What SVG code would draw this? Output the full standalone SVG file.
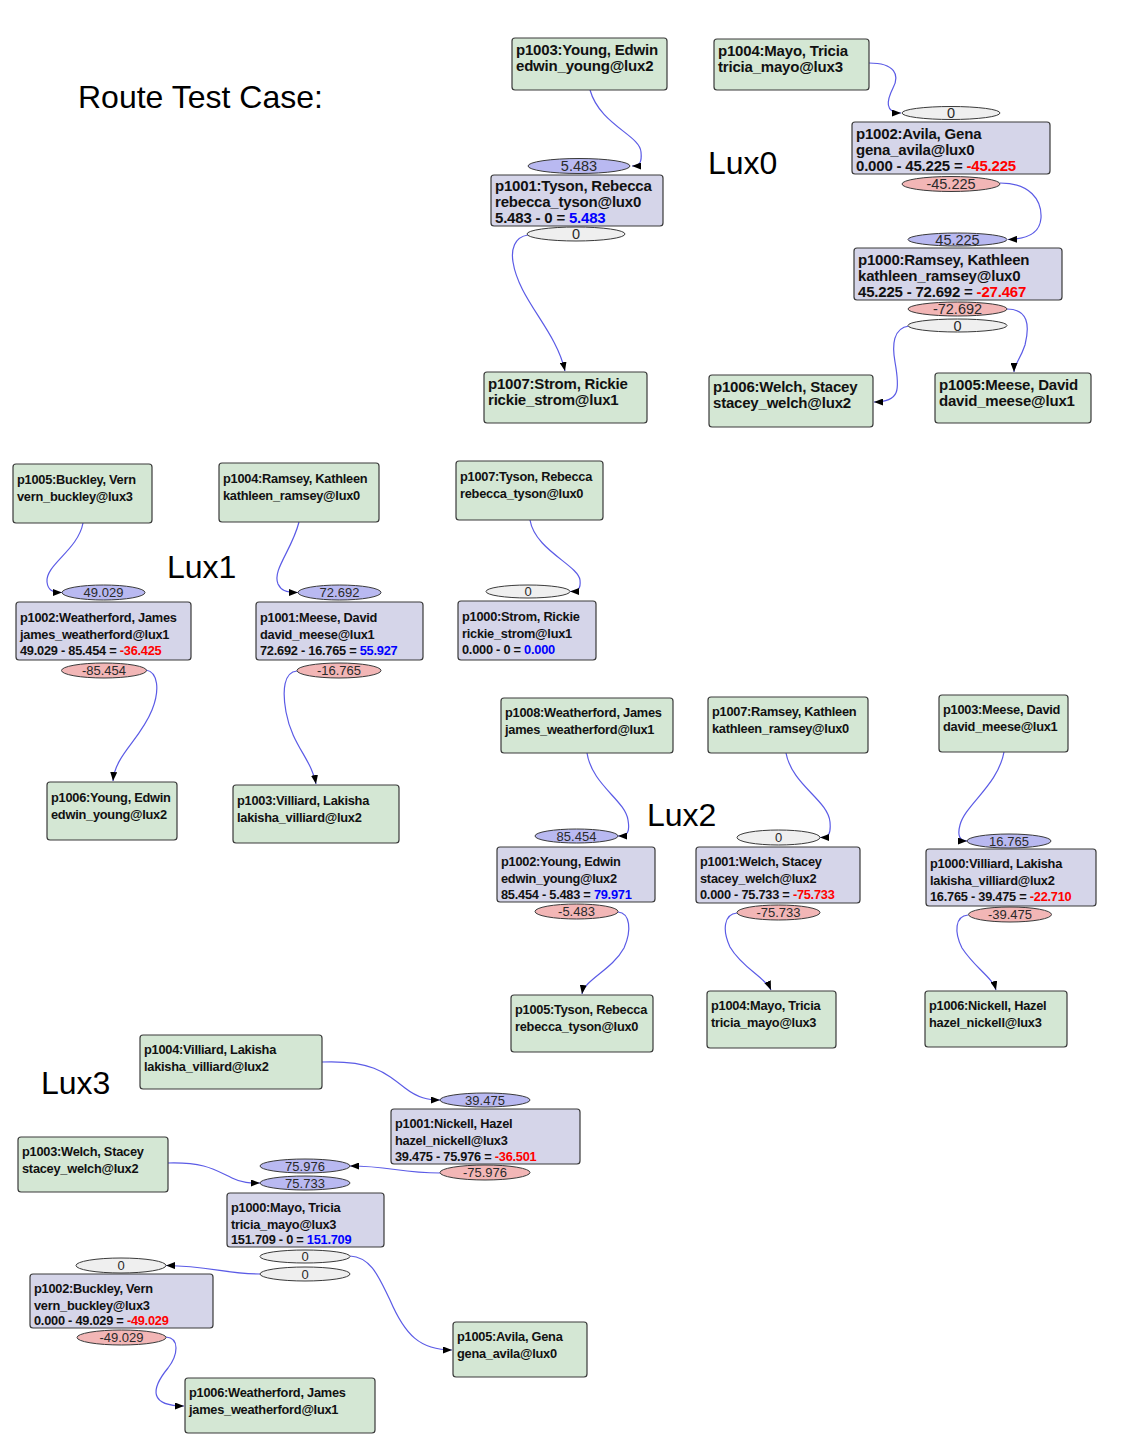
<svg xmlns="http://www.w3.org/2000/svg" width="1122" height="1452" viewBox="0 0 1122 1452">
<style>
.g{fill:#d4e7d4;stroke:#3a3a3a;stroke-width:1.2}
.l{fill:#d5d5e9;stroke:#3a3a3a;stroke-width:1.2}
.eb{fill:#b9b9f1;stroke:#3a3a3a;stroke-width:1}
.er{fill:#f2b6b6;stroke:#3a3a3a;stroke-width:1}
.eg{fill:#efefef;stroke:#3a3a3a;stroke-width:1}
.t0{font-family:"Liberation Sans",Arial,sans-serif;font-weight:bold;font-size:15px;fill:#111;letter-spacing:-0.2px}
.t1{font-family:"Liberation Sans",Arial,sans-serif;font-weight:bold;font-size:12.8px;fill:#111;letter-spacing:-0.25px}
.n0{font-family:"Liberation Sans",Arial,sans-serif;font-size:14.5px;fill:#2a2a2a;text-anchor:middle}
.n1{font-family:"Liberation Sans",Arial,sans-serif;font-size:13px;fill:#2a2a2a;text-anchor:middle}
.big{font-family:"Liberation Sans",Arial,sans-serif;font-size:32px;fill:#000}
.pos{fill:#0000ff}
.neg{fill:#ff0000}
.e{fill:none;stroke:#5b5be6;stroke-width:1.2;marker-end:url(#arr)}
</style>
<defs>
<marker id="arr" markerWidth="9" markerHeight="7" refX="9" refY="3.5" orient="auto" markerUnits="userSpaceOnUse">
<path d="M0,0 L9,3.5 L0,7 z" fill="#000"/>
</marker>
</defs>
<rect width="1122" height="1452" fill="#fff"/>

<text class="big" x="78" y="108">Route Test Case:</text>
<text class="big" x="708" y="174">Lux0</text>
<text class="big" x="167" y="578">Lux1</text>
<text class="big" x="647" y="826">Lux2</text>
<text class="big" x="41" y="1094">Lux3</text>

<g id="connectors">
<!-- Lux0 -->
<path class="e" d="M590,90 C600,125 640,135 641,152 C642,162 640,166 632,166"/>
<path class="e" d="M528,235 C514,237 511,250 513,262 C519,300 556,330 565,371"/>
<path class="e" d="M869,63 C895,63 900,75 893,88 C887,100 884,113 901,113"/>
<path class="e" d="M1000,183 C1030,183 1042,200 1041,218 C1040,232 1030,239 1008,239.5"/>
<path class="e" d="M909,326 C893,328 892,345 895,362 C900,390 900,402 874,402"/>
<path class="e" d="M1007,309 C1028,309 1030,325 1025,345 C1020,360 1014,365 1014,372"/>
<!-- Lux1 -->
<path class="e" d="M83,523 C78,550 45,565 47,582 C48,590 52,592.5 62,592.5"/>
<path class="e" d="M299,522 C292,550 272,570 278,584 C281,590 285,592.5 298,592.5"/>
<path class="e" d="M530,520 C535,550 578,565 580,580 C581,589 578,591.5 570,591.5"/>
<path class="e" d="M146,670 C158,672 160,690 152,710 C140,740 115,755 113,781"/>
<path class="e" d="M297,671 C284,672 282,690 286,712 C292,745 312,760 316,784"/>
<!-- Lux2 -->
<path class="e" d="M587,753 C592,785 625,800 628,820 C630,832 628,836 618,836"/>
<path class="e" d="M786,753 C792,785 828,800 830,822 C831,834 829,837.5 820,837.5"/>
<path class="e" d="M1004,752 C998,785 965,805 960,825 C957,836 960,841 967,841"/>
<path class="e" d="M618,912 C630,913 632,930 624,948 C612,970 584,980 582,994"/>
<path class="e" d="M737,913 C724,914 722,930 730,947 C742,968 766,978 771,990"/>
<path class="e" d="M968,915 C955,916 954,932 962,948 C975,968 993,978 996,990"/>
<!-- Lux3 -->
<path class="e" d="M322,1062 C370,1060 385,1072 405,1088 C418,1098 428,1100 440,1100"/>
<path class="e" d="M440,1173 C400,1173 390,1166 350,1166"/>
<path class="e" d="M168,1163 C205,1162 215,1170 232,1178 C242,1183 250,1183 260,1183"/>
<path class="e" d="M260,1274 C225,1274 210,1266 166,1265.5"/>
<path class="e" d="M350,1256 C372,1257 380,1280 390,1300 C405,1335 420,1350 452,1350"/>
<path class="e" d="M166,1337 C180,1338 178,1355 168,1368 C150,1390 150,1406 184,1406"/>
</g>

<!-- ===== Lux0 ===== -->
<g id="lux0-p1003">
<rect class="g" x="512" y="38" width="155" height="52" rx="3"/>
<text class="t0" x="516" y="55">p1003:Young, Edwin</text>
<text class="t0" x="516" y="71">edwin_young@lux2</text>
</g>
<g id="lux0-p1004">
<rect class="g" x="714" y="39" width="155" height="51" rx="3"/>
<text class="t0" x="718" y="56">p1004:Mayo, Tricia</text>
<text class="t0" x="718" y="72">tricia_mayo@lux3</text>
</g>
<g id="lux0-p1001">
<ellipse class="eb" cx="579" cy="166" rx="51" ry="7.5"/>
<text class="n0" x="579" y="171">5.483</text>
<rect class="l" x="491" y="175" width="172" height="51" rx="3"/>
<text class="t0" x="495" y="191">p1001:Tyson, Rebecca</text>
<text class="t0" x="495" y="207">rebecca_tyson@lux0</text>
<text class="t0" x="495" y="223">5.483 - 0 = <tspan class="pos">5.483</tspan></text>
<ellipse class="eg" cx="576" cy="234" rx="49" ry="7"/>
<text class="n0" x="576" y="239">0</text>
</g>
<g id="lux0-p1002">
<ellipse class="eg" cx="951" cy="113" rx="49" ry="6.5"/>
<text class="n0" x="951" y="118">0</text>
<rect class="l" x="852" y="122" width="198" height="52" rx="3"/>
<text class="t0" x="856" y="139">p1002:Avila, Gena</text>
<text class="t0" x="856" y="155">gena_avila@lux0</text>
<text class="t0" x="856" y="171">0.000 - 45.225 = <tspan class="neg">-45.225</tspan></text>
<ellipse class="er" cx="951" cy="184" rx="49" ry="7.5"/>
<text class="n0" x="951" y="189">-45.225</text>
</g>
<g id="lux0-p1000">
<ellipse class="eb" cx="957.5" cy="239.5" rx="49.5" ry="6.5"/>
<text class="n0" x="957.5" y="244.5">45.225</text>
<rect class="l" x="854" y="248" width="208" height="52" rx="3"/>
<text class="t0" x="858" y="265">p1000:Ramsey, Kathleen</text>
<text class="t0" x="858" y="281">kathleen_ramsey@lux0</text>
<text class="t0" x="858" y="297">45.225 - 72.692 = <tspan class="neg">-27.467</tspan></text>
<ellipse class="er" cx="957.5" cy="309" rx="49.5" ry="7"/>
<text class="n0" x="957.5" y="314">-72.692</text>
<ellipse class="eg" cx="957.5" cy="325.5" rx="49.5" ry="6.5"/>
<text class="n0" x="957.5" y="330.5">0</text>
</g>
<g id="lux0-p1007">
<rect class="g" x="484" y="372" width="163" height="51" rx="3"/>
<text class="t0" x="488" y="389">p1007:Strom, Rickie</text>
<text class="t0" x="488" y="405">rickie_strom@lux1</text>
</g>
<g id="lux0-p1006">
<rect class="g" x="709" y="375" width="164" height="52" rx="3"/>
<text class="t0" x="713" y="392">p1006:Welch, Stacey</text>
<text class="t0" x="713" y="408">stacey_welch@lux2</text>
</g>
<g id="lux0-p1005">
<rect class="g" x="935" y="373" width="156" height="50" rx="3"/>
<text class="t0" x="939" y="390">p1005:Meese, David</text>
<text class="t0" x="939" y="406">david_meese@lux1</text>
</g>

<!-- ===== Lux1 ===== -->
<g id="lux1-p1005">
<rect class="g" x="13" y="464" width="139" height="59" rx="3"/>
<text class="t1" x="17" y="484">p1005:Buckley, Vern</text>
<text class="t1" x="17" y="501">vern_buckley@lux3</text>
</g>
<g id="lux1-p1004">
<rect class="g" x="219" y="463" width="160" height="59" rx="3"/>
<text class="t1" x="223" y="483">p1004:Ramsey, Kathleen</text>
<text class="t1" x="223" y="500">kathleen_ramsey@lux0</text>
</g>
<g id="lux1-p1007">
<rect class="g" x="456" y="461" width="147" height="59" rx="3"/>
<text class="t1" x="460" y="481">p1007:Tyson, Rebecca</text>
<text class="t1" x="460" y="498">rebecca_tyson@lux0</text>
</g>
<g id="lux1-p1002">
<ellipse class="eb" cx="103.5" cy="592.5" rx="41.5" ry="7.5"/>
<text class="n1" x="103.5" y="597">49.029</text>
<rect class="l" x="16" y="602" width="175" height="58" rx="3"/>
<text class="t1" x="20" y="622">p1002:Weatherford, James</text>
<text class="t1" x="20" y="639">james_weatherford@lux1</text>
<text class="t1" x="20" y="655">49.029 - 85.454 = <tspan class="neg">-36.425</tspan></text>
<ellipse class="er" cx="104" cy="670.5" rx="42.5" ry="7.5"/>
<text class="n1" x="104" y="675">-85.454</text>
</g>
<g id="lux1-p1001">
<ellipse class="eb" cx="339.5" cy="592.5" rx="41.5" ry="7.5"/>
<text class="n1" x="339.5" y="597">72.692</text>
<rect class="l" x="256" y="602" width="167" height="58" rx="3"/>
<text class="t1" x="260" y="622">p1001:Meese, David</text>
<text class="t1" x="260" y="639">david_meese@lux1</text>
<text class="t1" x="260" y="655">72.692 - 16.765 = <tspan class="pos">55.927</tspan></text>
<ellipse class="er" cx="339" cy="670.5" rx="42" ry="7.5"/>
<text class="n1" x="339" y="675">-16.765</text>
</g>
<g id="lux1-p1000">
<ellipse class="eg" cx="528" cy="591.5" rx="42" ry="6.5"/>
<text class="n1" x="528" y="596">0</text>
<rect class="l" x="458" y="601" width="138" height="59" rx="3"/>
<text class="t1" x="462" y="621">p1000:Strom, Rickie</text>
<text class="t1" x="462" y="638">rickie_strom@lux1</text>
<text class="t1" x="462" y="654">0.000 - 0 = <tspan class="pos">0.000</tspan></text>
</g>
<g id="lux1-p1006">
<rect class="g" x="47" y="782" width="130" height="58" rx="3"/>
<text class="t1" x="51" y="802">p1006:Young, Edwin</text>
<text class="t1" x="51" y="819">edwin_young@lux2</text>
</g>
<g id="lux1-p1003">
<rect class="g" x="233" y="785" width="166" height="58" rx="3"/>
<text class="t1" x="237" y="805">p1003:Villiard, Lakisha</text>
<text class="t1" x="237" y="822">lakisha_villiard@lux2</text>
</g>

<!-- ===== Lux2 ===== -->
<g id="lux2-p1008">
<rect class="g" x="501" y="698" width="172" height="55" rx="3"/>
<text class="t1" x="505" y="717">p1008:Weatherford, James</text>
<text class="t1" x="505" y="734">james_weatherford@lux1</text>
</g>
<g id="lux2-p1007">
<rect class="g" x="708" y="697" width="160" height="56" rx="3"/>
<text class="t1" x="712" y="716">p1007:Ramsey, Kathleen</text>
<text class="t1" x="712" y="733">kathleen_ramsey@lux0</text>
</g>
<g id="lux2-p1003">
<rect class="g" x="939" y="695" width="129" height="57" rx="3"/>
<text class="t1" x="943" y="714">p1003:Meese, David</text>
<text class="t1" x="943" y="731">david_meese@lux1</text>
</g>
<g id="lux2-p1002">
<ellipse class="eb" cx="576.5" cy="836" rx="41.5" ry="7"/>
<text class="n1" x="576.5" y="840.5">85.454</text>
<rect class="l" x="497" y="847" width="158" height="55" rx="3"/>
<text class="t1" x="501" y="866">p1002:Young, Edwin</text>
<text class="t1" x="501" y="883">edwin_young@lux2</text>
<text class="t1" x="501" y="899">85.454 - 5.483 = <tspan class="pos">79.971</tspan></text>
<ellipse class="er" cx="576.5" cy="911.5" rx="41.5" ry="7.5"/>
<text class="n1" x="576.5" y="916">-5.483</text>
</g>
<g id="lux2-p1001">
<ellipse class="eg" cx="778.5" cy="837.5" rx="41.5" ry="7.5"/>
<text class="n1" x="778.5" y="842">0</text>
<rect class="l" x="696" y="847" width="164" height="56" rx="3"/>
<text class="t1" x="700" y="866">p1001:Welch, Stacey</text>
<text class="t1" x="700" y="883">stacey_welch@lux2</text>
<text class="t1" x="700" y="899">0.000 - 75.733 = <tspan class="neg">-75.733</tspan></text>
<ellipse class="er" cx="778.5" cy="912.5" rx="41.5" ry="7.5"/>
<text class="n1" x="778.5" y="917">-75.733</text>
</g>
<g id="lux2-p1000">
<ellipse class="eb" cx="1009" cy="841" rx="42" ry="7"/>
<text class="n1" x="1009" y="845.5">16.765</text>
<rect class="l" x="926" y="849" width="170" height="57" rx="3"/>
<text class="t1" x="930" y="868">p1000:Villiard, Lakisha</text>
<text class="t1" x="930" y="885">lakisha_villiard@lux2</text>
<text class="t1" x="930" y="901">16.765 - 39.475 = <tspan class="neg">-22.710</tspan></text>
<ellipse class="er" cx="1010" cy="914.5" rx="41.5" ry="7.5"/>
<text class="n1" x="1010" y="919">-39.475</text>
</g>
<g id="lux2-p1005">
<rect class="g" x="511" y="995" width="142" height="57" rx="3"/>
<text class="t1" x="515" y="1014">p1005:Tyson, Rebecca</text>
<text class="t1" x="515" y="1031">rebecca_tyson@lux0</text>
</g>
<g id="lux2-p1004">
<rect class="g" x="707" y="991" width="129" height="57" rx="3"/>
<text class="t1" x="711" y="1010">p1004:Mayo, Tricia</text>
<text class="t1" x="711" y="1027">tricia_mayo@lux3</text>
</g>
<g id="lux2-p1006">
<rect class="g" x="925" y="991" width="142" height="56" rx="3"/>
<text class="t1" x="929" y="1010">p1006:Nickell, Hazel</text>
<text class="t1" x="929" y="1027">hazel_nickell@lux3</text>
</g>

<!-- ===== Lux3 ===== -->
<g id="lux3-p1004">
<rect class="g" x="140" y="1035" width="182" height="54" rx="3"/>
<text class="t1" x="144" y="1054">p1004:Villiard, Lakisha</text>
<text class="t1" x="144" y="1071">lakisha_villiard@lux2</text>
</g>
<g id="lux3-p1001">
<ellipse class="eb" cx="485" cy="1100" rx="45" ry="7"/>
<text class="n1" x="485" y="1104.5">39.475</text>
<rect class="l" x="391" y="1109" width="189" height="55" rx="3"/>
<text class="t1" x="395" y="1128">p1001:Nickell, Hazel</text>
<text class="t1" x="395" y="1145">hazel_nickell@lux3</text>
<text class="t1" x="395" y="1161">39.475 - 75.976 = <tspan class="neg">-36.501</tspan></text>
<ellipse class="er" cx="485" cy="1172.5" rx="45" ry="7.5"/>
<text class="n1" x="485" y="1177">-75.976</text>
</g>
<g id="lux3-p1003">
<rect class="g" x="18" y="1137" width="150" height="55" rx="3"/>
<text class="t1" x="22" y="1156">p1003:Welch, Stacey</text>
<text class="t1" x="22" y="1173">stacey_welch@lux2</text>
</g>
<g id="lux3-p1000">
<ellipse class="eb" cx="305" cy="1166" rx="45" ry="7"/>
<text class="n1" x="305" y="1170.5">75.976</text>
<ellipse class="eb" cx="305" cy="1183" rx="45" ry="7"/>
<text class="n1" x="305" y="1187.5">75.733</text>
<rect class="l" x="227" y="1193" width="157" height="54" rx="3"/>
<text class="t1" x="231" y="1212">p1000:Mayo, Tricia</text>
<text class="t1" x="231" y="1229">tricia_mayo@lux3</text>
<text class="t1" x="231" y="1244">151.709 - 0 = <tspan class="pos">151.709</tspan></text>
<ellipse class="eg" cx="305" cy="1256.5" rx="45" ry="6.5"/>
<text class="n1" x="305" y="1261">0</text>
<ellipse class="eg" cx="305" cy="1274" rx="45" ry="7"/>
<text class="n1" x="305" y="1278.5">0</text>
</g>
<g id="lux3-p1002">
<ellipse class="eg" cx="121" cy="1265.5" rx="45" ry="7.5"/>
<text class="n1" x="121" y="1270">0</text>
<rect class="l" x="30" y="1274" width="183" height="54" rx="3"/>
<text class="t1" x="34" y="1293">p1002:Buckley, Vern</text>
<text class="t1" x="34" y="1310">vern_buckley@lux3</text>
<text class="t1" x="34" y="1325">0.000 - 49.029 = <tspan class="neg">-49.029</tspan></text>
<ellipse class="er" cx="121.5" cy="1337.5" rx="44.5" ry="7.5"/>
<text class="n1" x="121.5" y="1342">-49.029</text>
</g>
<g id="lux3-p1005">
<rect class="g" x="453" y="1322" width="134" height="55" rx="3"/>
<text class="t1" x="457" y="1341">p1005:Avila, Gena</text>
<text class="t1" x="457" y="1358">gena_avila@lux0</text>
</g>
<g id="lux3-p1006">
<rect class="g" x="185" y="1378" width="190" height="55" rx="3"/>
<text class="t1" x="189" y="1397">p1006:Weatherford, James</text>
<text class="t1" x="189" y="1414">james_weatherford@lux1</text>
</g>
</svg>
